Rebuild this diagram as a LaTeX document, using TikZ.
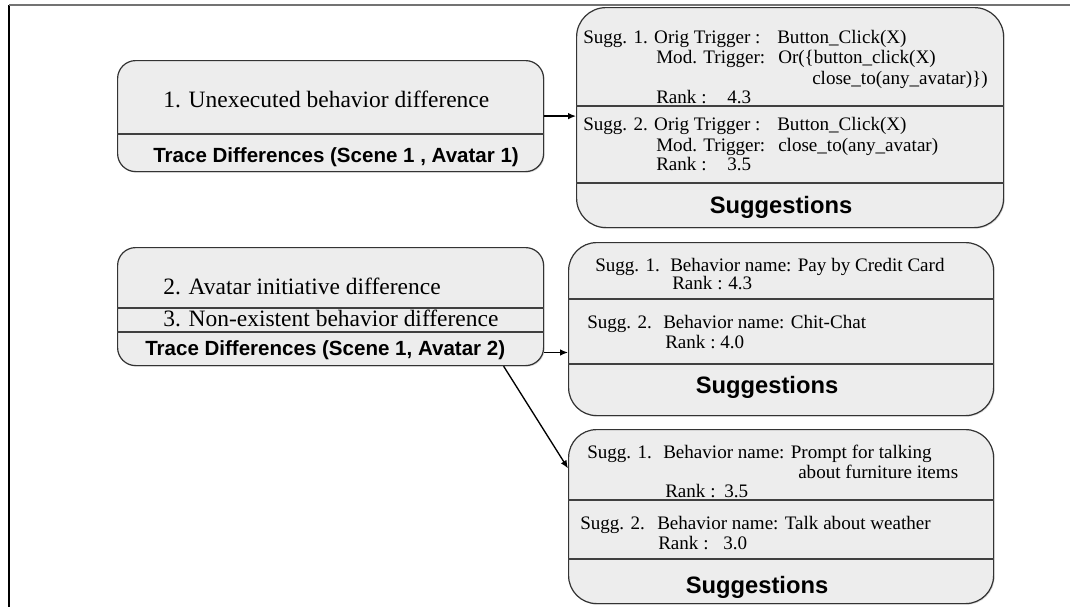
\documentclass[tikz,border=0pt]{standalone}
\usepackage{fontspec}
\setmainfont{Liberation Serif}
\setsansfont{Liberation Sans}
\usetikzlibrary{arrows.meta,calc,shadows}
\begin{document}
\begin{tikzpicture}[x=0.75pt,y=-0.75pt,
  panel/.style={draw=black!80, line width=0.9pt, fill=black!7, anchor=north west, inner sep=0pt,
    drop shadow={shadow xshift=0.8pt, shadow yshift=-0.8pt, opacity=0.3}},
  sep/.style={draw=black!75, line width=0.8pt},
  big/.style={anchor=base west, inner sep=0pt, font=\fontsize{17.6}{20}\selectfont},
  small/.style={anchor=base west, inner sep=0pt, font=\fontsize{14.3}{16}\selectfont},
  head/.style={anchor=base west, inner sep=0pt, font=\sffamily\bfseries\fontsize{15.4}{18}\selectfont},
  title/.style={anchor=base, inner sep=0pt, font=\sffamily\bfseries\fontsize{17.8}{20}\selectfont},
  link/.style={-{Latex[length=6pt,width=5pt]}, line width=1pt, black},
]
\useasboundingbox (0,0) rectangle (1070,607);

% frame
\draw[black, line width=1pt] (9,5) -- (9,607);
\draw[black!55, line width=1.2pt] (9,5) -- (1070,5);

% panels
\node[panel, rounded corners=13.5pt, minimum width=319.5pt, minimum height=83.25pt] (A) at (117,60) {};
\node[panel, rounded corners=22pt, minimum width=320.25pt, minimum height=165pt] (B) at (576,7) {};
\node[panel, rounded corners=13.5pt, minimum width=319.5pt, minimum height=88.5pt] (C) at (117,247) {};
\node[panel, rounded corners=21pt, minimum width=318.75pt, minimum height=129.75pt] (D) at (568,242) {};
\node[panel, rounded corners=21pt, minimum width=318.75pt, minimum height=130.5pt] (E) at (568,429) {};

% section dividers
\draw[sep] (A.west |- 0,134) -- (A.east |- 0,134);
\draw[sep] (B.west |- 0,106) -- (B.east |- 0,106);
\draw[sep] (B.west |- 0,183) -- (B.east |- 0,183);
\draw[sep] (C.west |- 0,308) -- (C.east |- 0,308);
\draw[sep] (C.west |- 0,332) -- (C.east |- 0,332);
\draw[sep] (D.west |- 0,299) -- (D.east |- 0,299);
\draw[sep] (D.west |- 0,364) -- (D.east |- 0,364);
\draw[sep] (E.west |- 0,500) -- (E.east |- 0,500);
\draw[sep] (E.west |- 0,559) -- (E.east |- 0,559);

% trace differences, avatar 1
\node[big] (a1) at (163,107) {1. Unexecuted behavior difference};
\node[head] (ta) at (153,162) {Trace Differences (Scene 1 , Avatar 1)};

% suggestions for avatar 1
\node[small] (b1l) at (583,43) {Sugg. 1. Orig Trigger :};
\node[small] (b1r) at (777,43) {Button\_Click(X)};
\node[small] (b2l) at (656,63) {Mod. Trigger:};
\node[small] (b2r) at (778,63) {Or(\{button\_click(X)};
\node[small] (b3r) at (812,84) {close\_to(any\_avatar)\})};
\node[small] (b4l) at (656,103) {Rank :};
\node[small] (b4r) at (727,103) {4.3};
\node[small] (b5l) at (583,130) {Sugg. 2. Orig Trigger :};
\node[small] (b5r) at (777,130) {Button\_Click(X)};
\node[small] (b6l) at (656,151) {Mod. Trigger:};
\node[small] (b6r) at (778,151) {close\_to(any\_avatar)};
\node[small] (b7l) at (656,170) {Rank :};
\node[small] (b7r) at (727,170) {3.5};
\node[title] (bt) at (781,213.5) {Suggestions};

% trace differences, avatar 2
\node[big] (c1) at (163,294) {2. Avatar initiative difference};
\node[big] (c2) at (163,326) {3. Non-existent behavior difference};
\node[head] (tc) at (145,355) {Trace Differences (Scene 1, Avatar 2)};

% suggestions for avatar 2 (first)
\node[small] (d1l) at (595,271) {Sugg. 1.};
\node[small] (d1r) at (670,271) {Behavior name: Pay by Credit Card};
\node[small] (d2l) at (672,289) {Rank :};
\node[small] (d2r) at (728,289) {4.3};
\node[small] (d3l) at (587,328) {Sugg. 2.};
\node[small] (d3r) at (663,328) {Behavior name: Chit-Chat};
\node[small] (d4l) at (665,348) {Rank :};
\node[small] (d4r) at (720,348) {4.0};
\node[title] (dt) at (767,393.5) {Suggestions};

% suggestions for avatar 2 (second)
\node[small] (e1l) at (587,458) {Sugg. 1.};
\node[small] (e1r) at (663,458) {Behavior name: Prompt for talking};
\node[small] (e2r) at (798,478) {about furniture items};
\node[small] (e3l) at (665,497) {Rank :};
\node[small] (e3r) at (724,497) {3.5};
\node[small] (e4l) at (580,529) {Sugg. 2.};
\node[small] (e4r) at (657,529) {Behavior name: Talk about weather};
\node[small] (e5l) at (658,549) {Rank :};
\node[small] (e5r) at (723,549) {3.0};
\node[title] (et) at (757,593.5) {Suggestions};

% connector end points on the panel outlines
\coordinate (cOut) at ($(C.north east)!0.885!(C.south east)$);
\coordinate (cLow) at ($(C.south west)!0.905!(C.south east)$);
\coordinate (eIn) at ($(E.north west)!0.225!(E.south west)$);

% connectors
\draw[link] (A.east) -- (A.east -| B.west);
\draw[link] (cOut) -- (cOut -| D.west);
\draw[link] (cLow) -- (eIn);
\end{tikzpicture}
\end{document}
